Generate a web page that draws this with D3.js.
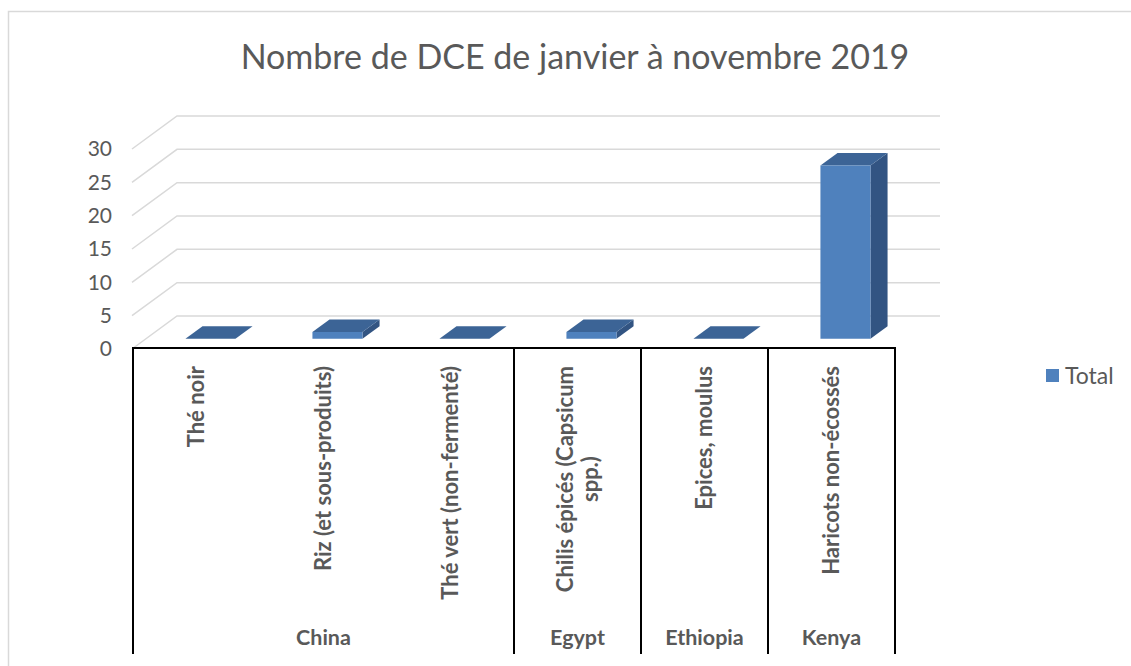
<!DOCTYPE html>
<html>
<head>
<meta charset="utf-8">
<script src="https://cdn.jsdelivr.net/npm/d3@7"></script>
<style>
  body { margin: 0; background: #fff; }
  text { font-family: Lato, "Open Sans", sans-serif; fill: #595959; }
</style>
</head>
<body>
<div id="chart"></div>
<script>
// data
const countries = ["China", "China", "China", "Egypt", "Ethiopia", "Kenya"];
const products = ["Thé noir", "Riz (et sous-produits)", "Thé vert (non-fermenté)",
                  "Chilis épicés (Capsicum spp.)", "Epices, moulus", "Haricots non-écossés"];
const values = [0, 1, 0, 1, 0, 26];
const yTicks = [0, 5, 10, 15, 20, 25, 30];
const seriesName = "Total";
const title = "Nombre de DCE de janvier à novembre 2019";

const W = 1131, H = 666;
const floorY = 349;          // front edge of the floor
const depthX = 45, depthY = -33; // full depth of the 3d box
const barD0 = 0.31, barD1 = 0.69; // bar depth range

const svg = d3.select("#chart").append("svg")
    .attr("width", W)
    .attr("height", H);

// chart frame (only left and top show in the crop)
svg.append("rect")
    .attr("x", 8.5).attr("y", 11.5)
    .attr("width", 1140).attr("height", 700)
    .attr("fill", "none")
    .attr("stroke", "#d9d9d9")
    .attr("stroke-width", 1.5);

// title
svg.append("text")
    .attr("x", 575).attr("y", 69)
    .attr("text-anchor", "middle")
    .style("font-size", "34px")
    .text(title);

// scales
const x = d3.scaleBand()
    .domain(products)
    .range([133, 895])
    .paddingInner(0.606)
    .paddingOuter(0.303);

const y = d3.scaleLinear()
    .domain([0, 30])
    .range([0, 200]);  // height in px above a floor line

const step = x.step();
const slotLeft = p => x(p) - (step - x.bandwidth()) / 2;

// project a point (px, value, depth fraction)
function proj(px, v, d) {
  return [px + d * depthX, floorY + d * depthY - y(v)];
}

// gridlines: side wall diagonal + back wall line
const grid = svg.append("g");
const left = x.range()[0] - 1, right = x.range()[1];
yTicks.forEach(t => {
  const a = proj(left, t, 0), b = proj(left, t, 1), c = proj(right, t, 1);
  grid.append("polyline")
      .attr("points", [a, b, c].map(p => p.join(",")).join(" "))
      .attr("fill", "none")
      .attr("stroke", "#d9d9d9")
      .attr("stroke-width", 1.5);
});

// value labels on the front edge
const frontY = d3.scaleLinear().domain([0, 30]).range([floorY, floorY - 200]);
const yAxis = svg.append("g")
    .attr("transform", "translate(112,0)")
    .call(d3.axisLeft(frontY).tickValues(yTicks).tickSize(0).tickPadding(0));
yAxis.select(".domain").remove();
yAxis.selectAll("text")
    .attr("fill", "#595959")
    .style("font-family", "Lato, sans-serif")
    .style("font-size", "21px");

// bars
const bars = svg.append("g");
products.forEach((p, i) => {
  const v = values[i];
  const x0 = x(p), x1 = x(p) + x.bandwidth();
  const fbl = proj(x0, 0, barD0), fbr = proj(x1, 0, barD0);
  const ftl = proj(x0, v, barD0), ftr = proj(x1, v, barD0);
  const btl = proj(x0, v, barD1), btr = proj(x1, v, barD1);
  const bbr = proj(x1, 0, barD1);
  const poly = pts => pts.map(q => q.join(",")).join(" ");
  // side
  bars.append("polygon")
      .attr("points", poly([fbr, ftr, btr, bbr]))
      .attr("fill", "#325482");
  // top
  bars.append("polygon")
      .attr("points", poly([ftl, ftr, btr, btl]))
      .attr("fill", "#3c6496");
  // front
  if (v > 0) {
    bars.append("polygon")
        .attr("points", poly([fbl, fbr, ftr, ftl]))
        .attr("fill", "#4f81bd");
  }
});

// category table below the floor
const table = svg.append("g");
const tableTop = 348, tableBottom = 654;
table.append("line")
    .attr("x1", 133).attr("x2", 895)
    .attr("y1", tableTop).attr("y2", tableTop)
    .attr("stroke", "#000").attr("stroke-width", 2);

// groups of consecutive countries
const groups = [];
products.forEach((p, i) => {
  const g = groups[groups.length - 1];
  if (g && g.name === countries[i]) g.end = slotLeft(p) + step;
  else groups.push({name: countries[i], start: slotLeft(p), end: slotLeft(p) + step});
});

const edges = [groups[0].start].concat(groups.map(g => g.end));
edges.forEach(ex => {
  table.append("line")
      .attr("x1", ex).attr("x2", ex)
      .attr("y1", tableTop - 1).attr("y2", tableBottom)
      .attr("stroke", "#000").attr("stroke-width", 2);
});

table.selectAll(".country")
    .data(groups)
    .enter().append("text")
    .attr("class", "country")
    .attr("x", d => (d.start + d.end) / 2)
    .attr("y", 645)
    .attr("text-anchor", "middle")
    .attr("font-weight", 700)
    .style("font-size", "21.5px")
    .text(d => d.name);

// rotated product labels, wrapped when too long
const maxLabel = 265, lineH = 25, labelTop = 366;
products.forEach((p, i) => {
  const g = table.append("g");
  const t = g.append("text")
      .attr("font-weight", 700)
      .style("font-size", "22px")
      .attr("text-anchor", "middle");
  // break into lines
  const words = p.split(" ");
  let lines = [], cur = [];
  words.forEach(w => {
    cur.push(w);
    t.text(cur.join(" "));
    if (t.node().getComputedTextLength() > maxLabel && cur.length > 1) {
      cur.pop();
      lines.push(cur.join(" "));
      cur = [w];
    }
  });
  lines.push(cur.join(" "));
  const widths = lines.map(l => { t.text(l); return t.node().getComputedTextLength(); });
  t.text(null);
  const blockW = d3.max(widths);
  const slotCenter = slotLeft(p) + step / 2;
  g.attr("transform", `translate(${slotCenter},${labelTop + blockW / 2}) rotate(-90)`);
  lines.forEach((l, k) => {
    t.append("tspan")
        .attr("x", 0)
        .attr("y", (k - (lines.length - 1) / 2) * lineH)
        .attr("dy", "0.35em")
        .attr("font-weight", 700)
        .text(l);
  });
});

// legend
const legend = svg.append("g").attr("transform", "translate(1046,369)");
legend.append("rect")
    .attr("width", 13).attr("height", 13)
    .attr("fill", "#4f81bd");
legend.append("text")
    .attr("x", 19).attr("y", 6.5)
    .attr("dy", "0.35em")
    .style("font-size", "23px")
    .text(seriesName);
</script>
</body>
</html>
